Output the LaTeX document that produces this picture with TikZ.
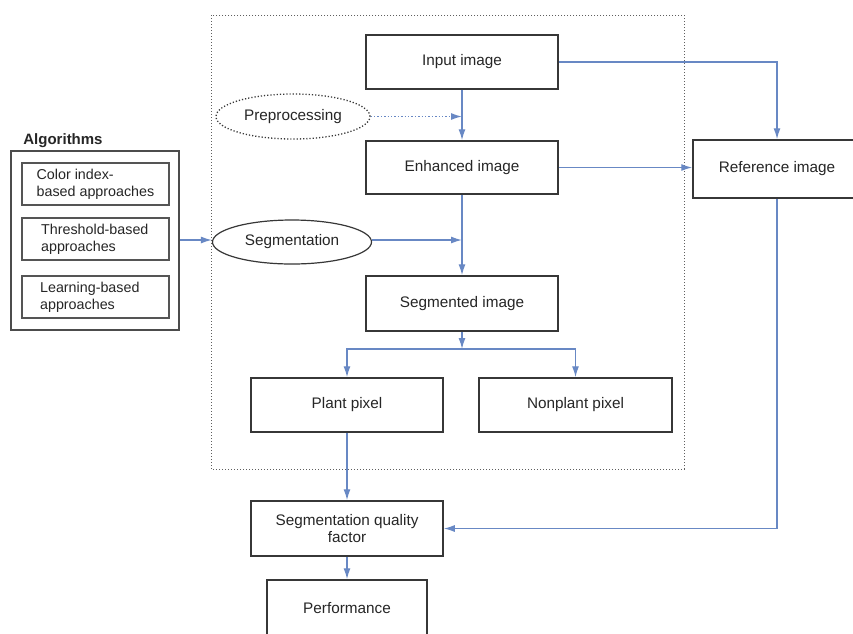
\documentclass[tikz,border=0pt]{standalone}
\usepackage{fontspec}
\setmainfont{Liberation Sans}
\usetikzlibrary{shapes.geometric,arrows.meta}
\definecolor{conn}{RGB}{104,136,196}
\definecolor{boxline}{RGB}{55,55,55}
\begin{document}
\begin{tikzpicture}[x=1pt,y=-1pt,
  every node/.style={font=\fontsize{15.3}{18}\selectfont, text=black!85},
  box/.style={draw=boxline, line width=1.5pt, minimum width=192pt, minimum height=54pt, inner sep=2pt, align=center},
  algbox/.style={draw=boxline!85, line width=1.4pt, minimum width=147pt, minimum height=42pt, inner sep=2pt, align=left, font=\fontsize{14.3}{17}\selectfont},
  oval/.style={ellipse, draw=boxline, line width=1.2pt, minimum width=156pt, minimum height=44pt, inner sep=0pt},
  conn/.style={draw=conn, line width=1.4pt},
  tip/.style={-{Latex[length=11pt,width=7pt]}},
]
\clip (0,0) rectangle (853,633);
\fill[white] (0,0) rectangle (853,633);

% dotted frame
\draw[boxline!80, line width=1pt, dotted] (211,15) rectangle (684,469);

% nodes
\node[box] (input) at (462,62) {Input image};
\node[box, minimum height=53pt] (enh) at (462,167.5) {Enhanced image};
\node[box, minimum height=55pt] (seg) at (462,303.5) {Segmented image};
\node[box] (plant) at (347,405) {Plant pixel};
\node[box, minimum width=193pt] (nonplant) at (575.5,405) {Nonplant pixel};
\node[box, minimum height=55pt] (sqf) at (347,528.5) {Segmentation quality\\[-1pt]factor};
\node[box, minimum width=160pt, minimum height=56pt] (perf) at (347,608) {Performance};
\node[box, minimum width=168pt, minimum height=58pt] (ref) at (777,169) {Reference image};

\node[oval, dotted, line width=1.3pt, minimum width=154pt, minimum height=45pt] (pre) at (293,116.5) {Preprocessing};
\node[oval, minimum width=159pt] (segm) at (292,242) {Segmentation};

% algorithms
\node[font=\bfseries\fontsize{15}{18}\selectfont] (algt) at (63,141) {Algorithms};
\node[draw=black!70, line width=1.6pt, minimum width=168pt, minimum height=179pt, inner sep=0pt] (alg) at (95,240.5) {};
\node[algbox] (a1) at (95.5,184) {Color index-\\based approaches};
\node[algbox] (a2) at (95.5,239) {Threshold-based\\approaches\hspace*{34pt}};
\node[algbox] (a3) at (95.5,297) {Learning-based\\approaches\hspace*{36pt}};

% connectors
\coordinate (jpre) at (462,116.5);
\coordinate (jseg) at (462,240);
\coordinate (jsplit) at (462,349);

\draw[conn, tip] (input.south) -- (enh.north);
\draw[conn, tip, dotted, line width=1.4pt] (pre.east) -- (jpre);
\draw[conn, tip] (enh.south) -- (seg.north);
\draw[conn, tip] (alg.east |- jseg) -- (segm.west |- jseg);
\draw[conn, tip] (segm.east |- jseg) -- (jseg);
\draw[conn, tip] (seg.south) -- (jsplit);
\draw[conn, tip] (jsplit) -| (plant.north);
\draw[conn, tip] (jsplit) -| (nonplant.north);
\draw[conn, tip] (input.east) -| (ref.north);
\draw[conn, tip] (enh.east) -- (enh.east -| ref.west);
\draw[conn, tip] (plant.south) -- (sqf.north);
\draw[conn, tip] (ref.south) |- (sqf.east);
\draw[conn, tip] (sqf.south) -- (perf.north);
\end{tikzpicture}
\end{document}
